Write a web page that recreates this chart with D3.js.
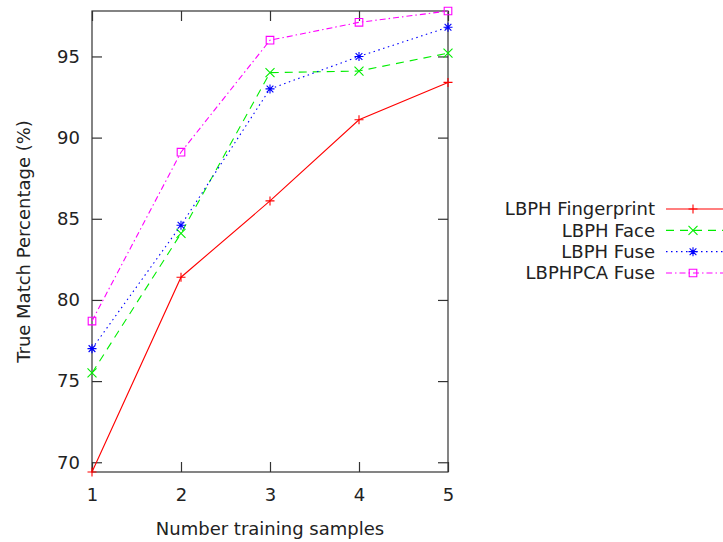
<!DOCTYPE html>
<html>
<head>
<meta charset="utf-8">
<script src="https://cdn.jsdelivr.net/npm/d3@7"></script>
<style>
  body { margin: 0; background: #fff; }
  text { font-family: "DejaVu Sans", sans-serif; fill: #222; }
</style>
</head>
<body>
<svg id="chart" width="723" height="542"></svg>
<script>
// values
const samples = [1, 2, 3, 4, 5];
const fingerprint = [69.4, 81.4, 86.1, 91.1, 93.4];
const face = [75.5, 84.1, 94.0, 94.1, 95.2];
const fuse = [77.0, 84.6, 93.0, 95.0, 96.8];
const pca_fuse = [78.7, 89.1, 96.0, 97.1, 97.8];
const series_names = ["LBPH Fingerprint", "LBPH Face", "LBPH Fuse", "LBPHPCA Fuse"];
const y_ticks = [70, 75, 80, 85, 90, 95];

const svg = d3.select("#chart");
const margins = {top: 11, bottom: 70, left: 92, right: 275};
const width = 723, height = 542;
const chart_width = width - margins.left - margins.right;
const chart_height = height - margins.top - margins.bottom;
const font_size = "18px";

const styles = [
  {color: "#ff0000", dash: null, marker: "plus", size: 4.5},
  {color: "#00ee00", dash: "8,6", marker: "cross", size: 4.5},
  {color: "#0000ff", dash: "1.5,3.5", marker: "star", size: 4.5},
  {color: "#ff00ff", dash: "6,3,1.5,3", marker: "square", size: 3.8}
];
const all_series = [fingerprint, face, fuse, pca_fuse];

const chart = svg.append("g")
  .attr("transform", `translate(${margins.left}, ${margins.top})`);

const x_scale = d3.scaleLinear().domain([1, 5]).range([0, chart_width]);
const y_scale = d3.scaleLinear().domain([69.4, 97.8]).range([chart_height, 0]);

// frame with inward ticks on all sides (gnuplot style)
const tick_len = 10;
const axis_color = "#333";

const bottom_axis = chart.append("g")
  .attr("transform", `translate(0, ${chart_height})`)
  .call(d3.axisBottom(x_scale).tickValues(samples).tickFormat(d3.format("d"))
    .tickSize(-tick_len).tickPadding(16));
const top_axis = chart.append("g")
  .call(d3.axisTop(x_scale).tickValues(samples).tickSize(-tick_len).tickFormat(""));
const left_axis = chart.append("g")
  .call(d3.axisLeft(y_scale).tickValues(y_ticks).tickSize(-tick_len).tickPadding(12));
const right_axis = chart.append("g")
  .attr("transform", `translate(${chart_width}, 0)`)
  .call(d3.axisRight(y_scale).tickValues(y_ticks).tickSize(-tick_len).tickFormat(""));

[bottom_axis, top_axis, left_axis, right_axis].forEach((ax) => {
  ax.select(".domain").remove();
  ax.selectAll(".tick line").style("stroke", axis_color).style("stroke-width", 1.2);
  ax.selectAll(".tick text")
    .style("font-family", "'DejaVu Sans', sans-serif")
    .style("font-size", font_size)
    .style("fill", "#222");
});

chart.append("rect")
  .attr("width", chart_width)
  .attr("height", chart_height)
  .style("fill", "none")
  .style("stroke", axis_color)
  .style("stroke-width", 1.2);

// axis titles
chart.append("text")
  .attr("text-anchor", "middle")
  .attr("transform", `translate(${chart_width / 2}, ${chart_height + 63})`)
  .style("font-size", font_size)
  .text("Number training samples");

chart.append("text")
  .attr("text-anchor", "middle")
  .attr("transform", `translate(${-62}, ${chart_height / 2})rotate(-90)`)
  .style("font-size", font_size)
  .text("True Match Percentage (%)");

const marker_path = function(type, s){
  if(type === "plus") return `M${-s},0H${s}M0,${-s}V${s}`;
  if(type === "cross") return `M${-s},${-s}L${s},${s}M${-s},${s}L${s},${-s}`;
  if(type === "star") return `M${-s},0H${s}M0,${-s}V${s}M${-s*0.75},${-s*0.75}L${s*0.75},${s*0.75}M${-s*0.75},${s*0.75}L${s*0.75},${-s*0.75}`;
  return `M${-s},${-s}H${s}V${s}H${-s}Z`;
};

const line = d3.line()
  .x((d, i) => x_scale(samples[i]))
  .y((d) => y_scale(d));

const lineLayer = chart.append("g");

all_series.forEach((values, k) => {
  const st = styles[k];
  lineLayer.append("path")
    .datum(values)
    .attr("d", line)
    .style("fill", "none")
    .style("stroke", st.color)
    .style("stroke-width", 1.1)
    .style("stroke-dasharray", st.dash);

  lineLayer.selectAll(".m" + k)
    .data(values)
    .enter()
    .append("path")
    .attr("class", "m" + k)
    .attr("transform", (d, i) => `translate(${x_scale(samples[i])}, ${y_scale(d)})`)
    .attr("d", marker_path(st.marker, st.size))
    .style("fill", "none")
    .style("stroke", st.color)
    .style("stroke-width", 1.1);
});

// legend
const legend = svg.append("g");
const legend_y = d3.scalePoint().domain(series_names).range([209, 273]);

series_names.forEach((name, k) => {
  const st = styles[k];
  const y = legend_y(name);
  legend.append("text")
    .attr("x", 655)
    .attr("y", y)
    .attr("dy", "0.35em")
    .attr("text-anchor", "end")
    .style("font-size", font_size)
    .text(name);
  legend.append("line")
    .attr("x1", 666).attr("x2", 723)
    .attr("y1", y).attr("y2", y)
    .style("stroke", st.color)
    .style("stroke-width", 1.1)
    .style("stroke-dasharray", st.dash);
  legend.append("path")
    .attr("transform", `translate(693, ${y})`)
    .attr("d", marker_path(st.marker, st.size))
    .style("fill", "none")
    .style("stroke", st.color)
    .style("stroke-width", 1.1);
});
</script>
</body>
</html>
